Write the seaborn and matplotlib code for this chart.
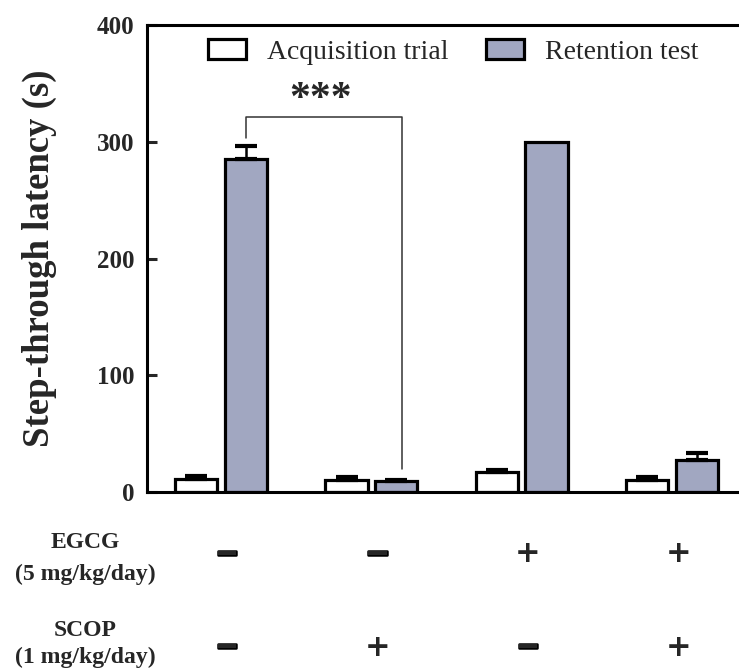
import matplotlib
matplotlib.use("Agg")
import matplotlib.pyplot as plt
import matplotlib.transforms as mtransforms
import matplotlib.patheffects as pe
import seaborn as sns
import pandas as pd
import numpy as np

# ---------------- data ----------------
groups = ["Control", "SCOP", "EGCG", "EGCG+SCOP"]
trials = ["Acquisition trial", "Retention test"]
acq_values = [11.0, 10.3, 17.0, 10.3]
acq_errors = [2.7, 2.4, 2.0, 2.2]
ret_values = [285.0, 9.4, 300.0, 27.4]
ret_errors = [11.0, 1.2, 0.0, 6.0]
egcg_signs = ["−", "−", "+", "+"]
scop_signs = ["−", "+", "−", "+"]
row_labels = [("EGCG", "(5 mg/kg/day)"), ("SCOP", "(1 mg/kg/day)")]
y_ticks = [0, 100, 200, 300, 400]

df = pd.DataFrame({
    "group": groups * 2,
    "trial": [trials[0]] * 4 + [trials[1]] * 4,
    "latency": acq_values + ret_values,
})

# ---------------- style ----------------
sns.set_theme(style="white")
plt.rcParams["font.family"] = ["Liberation Serif", "DejaVu Serif"]

W, H = 739, 670
fig = plt.figure(figsize=(W / 100, H / 100), dpi=100)
ax = fig.add_axes([147 / W, 1 - 492 / H, 1 - 147 / W, (492 - 25) / H])

palette = {trials[0]: "#ffffff", trials[1]: "#a1a7c1"}
sns.barplot(data=df, x="group", y="latency", hue="trial", order=groups,
            hue_order=trials, palette=palette, width=0.66, gap=0.15,
            errorbar=None, edgecolor="black", linewidth=2.3, ax=ax,
            saturation=1)

# error bars (upper only)
errs = [acq_errors, ret_errors]
for cont, err in zip(ax.containers, errs):
    for bar, e in zip(cont, err):
        if e <= 0:
            continue
        xc = bar.get_x() + bar.get_width() / 2
        ax.errorbar([xc], [bar.get_height()], yerr=[[0], [e]], fmt="none",
                    ecolor="black", elinewidth=1.8, capsize=8, capthick=3,
                    zorder=1)

ax.set_xlim(-0.492, 3.445)
ax.set_ylim(0, 400)
ax.set_yticks(y_ticks)
ax.set_yticklabels([str(t) for t in y_ticks], fontweight="bold", fontsize=18)
ax.set_xticks([])
ax.set_xlabel("")
ax.set_ylabel("Step-through latency (s)", fontsize=26.5, fontweight="bold")
ax.yaxis.set_label_coords(-0.152, 0.5)
ax.tick_params(axis="y", direction="in", length=7, width=2.2, left=True, pad=9)

for s in ["left", "bottom", "top"]:
    ax.spines[s].set_linewidth(2.2)
    ax.spines[s].set_color("black")
ax.spines["right"].set_visible(False)

# legend
handles, labels = ax.get_legend_handles_labels()
for h in handles:
    h.set_edgecolor("black")
    h.set_linewidth(2.3)
ax.legend(handles, labels, loc="center", bbox_to_anchor=(453 / W, 1 - 52 / H),
          bbox_transform=fig.transFigure, ncol=2, frameon=False, fontsize=20,
          handlelength=1.37, handleheight=0.72, handletextpad=0.75,
          columnspacing=1.35, borderpad=0)

# significance bracket between control and SCOP retention bars
ret_bars = ax.containers[1]
x_left = ret_bars[0].get_x() + ret_bars[0].get_width() / 2
x_right = ret_bars[1].get_x() + ret_bars[1].get_width() / 2 + 0.04
ax.plot([x_left, x_left, x_right, x_right], [303, 321, 321, 19.5],
        color="#333333", linewidth=1.1, clip_on=False)
ax.text((x_left + x_right) / 2 - 0.02, 336, "***", ha="center", va="center",
        fontsize=30, fontweight="bold")

# treatment rows under the axis
trans = mtransforms.blended_transform_factory(ax.transData, fig.transFigure)
for i, (e, s) in enumerate(zip(egcg_signs, scop_signs)):
    for sign, ypix in ((e, 554), (s, 647)):
        if sign == "+":
            ax.text(i + 0.04, 1 - ypix / H, sign, transform=trans,
                    ha="center", va="center", fontsize=22, fontweight="bold",
                    family=["DejaVu Sans"])
        else:
            ax.text(i + 0.04, 1 - ypix / H, sign, transform=trans,
                    ha="center", va="center", fontsize=21, fontweight="bold",
                    family=["DejaVu Sans"],
                    path_effects=[pe.withStroke(linewidth=1.8,
                                                foreground="black")])

for (name, dose), (y1, y2) in zip(row_labels, [(542, 574), (630, 657)]):
    fig.text(85 / W, 1 - y1 / H, name, ha="center", va="center",
             fontsize=17, fontweight="bold")
    fig.text(85 / W, 1 - y2 / H, dose, ha="center", va="center",
             fontsize=17, fontweight="bold")

fig.savefig("out.png", dpi=100)
